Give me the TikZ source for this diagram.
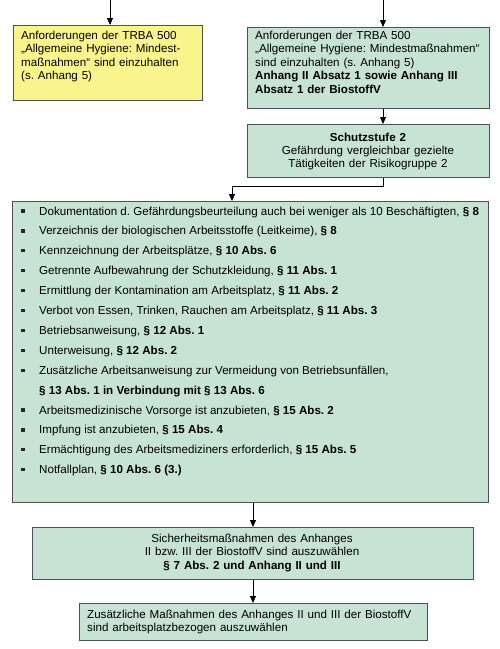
\documentclass[tikz,border=0pt]{standalone}
\usepackage{fontspec}
\setmainfont{Liberation Sans}
\usetikzlibrary{arrows.meta}
\definecolor{boxgreen}{RGB}{198,227,211}
\definecolor{boxyellow}{RGB}{250,244,140}
\definecolor{edgegray}{RGB}{80,80,80}
\frenchspacing
\begin{document}
\begin{tikzpicture}[x=1pt,y=-1pt,
  box/.style={draw=edgegray,line width=0.9pt,inner sep=0pt,anchor=north west},
  txt/.style={inner sep=0pt,font=\fontsize{11.6}{13.5}\selectfont},
  conn/.style={line width=0.8pt,-{Triangle[length=7pt,width=6pt]}},
  bullet/.style={fill=black!85}
]
\useasboundingbox (0,0) rectangle (500,649);
% boxes
\node[box,fill=boxyellow,minimum width=189pt,minimum height=75pt] (Y) at (13,25) {};
\node[box,fill=boxgreen,minimum width=242pt,minimum height=81pt] (G1) at (247,27) {};
\node[box,fill=boxgreen,minimum width=242pt,minimum height=53pt] (G2) at (247,124) {};
\node[box,fill=boxgreen,minimum width=476pt,minimum height=301pt] (B) at (12,201) {};
\node[box,fill=boxgreen,minimum width=441pt,minimum height=52pt] (S) at (32,527) {};
\node[box,fill=boxgreen,minimum width=348pt,minimum height=37pt] (L) at (79,603) {};
% texts
\node[txt,anchor=base west,text width=185pt,align=left] (Yt) at (21,39)
  {Anforderungen der TRBA 500\\„Allgemeine Hygiene: Mindest-\\maßnahmen“ sind einzuhalten\\(s. Anhang 5)};
\node[txt,anchor=base west,text width=235pt,align=left] (G1t) at (255,39)
  {Anforderungen der TRBA 500\\„Allgemeine Hygiene: Mindestmaßnahmen“\\sind einzuhalten (s. Anhang 5)\\\textbf{Anhang II Absatz 1 sowie Anhang III}\\\textbf{Absatz 1 der BiostoffV}};
\node[txt,anchor=base,text width=235pt,align=center,font=\fontsize{11.6}{13}\selectfont] (G2t) at (368,141)
  {\textbf{Schutzstufe 2}\\Gefährdung vergleichbar gezielte\\Tätigkeiten der Risikogruppe 2};
\node[txt,anchor=base,text width=430pt,align=center] (St) at (252,542)
  {Sicherheitsmaßnahmen des Anhanges\\II bzw. III der BiostoffV sind auszuwählen\\\textbf{§ 7 Abs. 2 und Anhang II und III}};
\node[txt,anchor=base west,text width=340pt,align=left,font=\fontsize{11.6}{13}\selectfont] (Lt) at (87,618)
  {Zusätzliche Maßnahmen des Anhanges II und III der BiostoffV\\sind arbeitsplatzbezogen auszuwählen};
% list
\foreach \t [count=\i from 0] in {
  {Dokumentation d. Gefährdungsbeurteilung auch bei weniger als 10 Beschäftigten, \textbf{§ 8}},
  {Verzeichnis der biologischen Arbeitsstoffe (Leitkeime), \textbf{§ 8}},
  {Kennzeichnung der Arbeitsplätze, \textbf{§ 10 Abs. 6}},
  {Getrennte Aufbewahrung der Schutzkleidung, \textbf{§ 11 Abs. 1}},
  {Ermittlung der Kontamination am Arbeitsplatz, \textbf{§ 11 Abs. 2}},
  {Verbot von Essen, Trinken, Rauchen am Arbeitsplatz, \textbf{§ 11 Abs. 3}},
  {Betriebsanweisung, \textbf{§ 12 Abs. 1}},
  {Unterweisung, \textbf{§ 12 Abs. 2}},
  {Zusätzliche Arbeitsanweisung zur Vermeidung von Betriebsunfällen,},
  {\textbf{§ 13 Abs. 1 in Verbindung mit § 13 Abs. 6}},
  {Arbeitsmedizinische Vorsorge ist anzubieten, \textbf{§ 15 Abs. 2}},
  {Impfung ist anzubieten, \textbf{§ 15 Abs. 4}},
  {Ermächtigung des Arbeitsmediziners erforderlich, \textbf{§ 15 Abs. 5}},
  {Notfallplan, \textbf{§ 10 Abs. 6 (3.)}}}
{
  \node[txt,anchor=base west] (item\i) at (39,{215+19.9*\i}) {\t};
  \ifnum\i=9\relax\else
    \fill[bullet] (21.4,{215+19.9*\i-5.6}) rectangle ++(3.2,3.2);
  \fi
}
% connectors
\coordinate (Ytop) at (110,0);
\coordinate (Gtop) at (383,0);
\coordinate (bend) at (383,186);
\coordinate (bx) at (232,0);
\coordinate (mx) at (253,0);
\draw[conn] (Ytop) -- (Ytop |- Y.north);
\draw[conn] (Gtop) -- (Gtop |- G1.north);
\draw[conn] (G1.south -| Gtop) -- (G2.north -| Gtop);
\draw[conn] (G2.south -| bend) -- (bend) -| (B.north -| bx);
\draw[conn] (B.south -| mx) -- (S.north -| mx);
\draw[conn] (S.south -| mx) -- (L.north -| mx);
\end{tikzpicture}
\end{document}
